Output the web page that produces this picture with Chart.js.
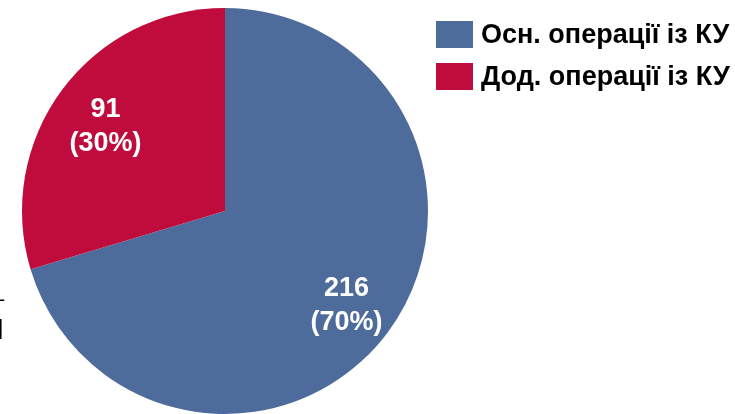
<!DOCTYPE html>
<html>
<head>
<meta charset="utf-8">
<script src="https://cdn.jsdelivr.net/npm/chart.js@4/dist/chart.umd.min.js"></script>
<style>
  html, body { margin: 0; padding: 0; background: #fff; }
  #wrap { position: relative; width: 735px; height: 414px; overflow: hidden; }
  #legend { position: absolute; left: 436px; top: 21px; font-family: "Liberation Sans", Arial, sans-serif; font-weight: bold; font-size: 27px; color: #000; }
  .item { display: flex; align-items: center; height: 27px; margin-bottom: 15px; white-space: nowrap; }
  .box { width: 37px; height: 27px; margin-right: 8px; }
  #edge { position: absolute; left: -8px; top: 284px; font-family: "Liberation Sans", Arial, sans-serif; font-size: 22px; line-height: 30px; color: #000; }
</style>
</head>
<body>
<div id="wrap">
  <canvas id="myChart" width="735" height="414"></canvas>
  <div id="legend"></div>
  <div id="edge"><div>–</div><div style="font-weight:bold;font-size:30px;margin-left:-10px">И</div><div style="color:#bbb">)</div></div>
</div>
<script>
const categories = ['Осн. операції із КУ', 'Дод. операції із КУ'];
const values = [216, 91];
const percents = ['70%', '30%'];
const colors = ['#4D6C9B', '#C00C3D'];

// legend as html
const legend = document.getElementById('legend');
categories.forEach((name, i) => {
    const row = document.createElement('div');
    row.className = 'item';
    row.innerHTML = `<span class="box" style="background:${colors[i]}"></span><span>${name}</span>`;
    legend.appendChild(row);
});

// white labels inside slices
const sliceLabels = {
    id: 'sliceLabels',
    afterDatasetsDraw(chart) {
        const c = chart.ctx;
        const meta = chart.getDatasetMeta(0);
        c.save();
        c.fillStyle = '#fff';
        c.font = 'bold 27px "Liberation Sans", Arial, sans-serif';
        c.textAlign = 'center';
        c.textBaseline = 'middle';
        meta.data.forEach((arc, i) => {
            const mid = (arc.startAngle + arc.endAngle) / 2;
            const r = arc.outerRadius * 0.74;
            const x = arc.x + Math.cos(mid) * r;
            const y = arc.y + Math.sin(mid) * r;
            c.fillText(String(values[i]), x + 1, y - 12);
            c.fillText('(' + percents[i] + ')', x + 1, y + 22);
        });
        c.restore();
    }
};

const ctx = document.getElementById('myChart').getContext('2d');
new Chart(ctx, {
    type: 'pie',
    data: {
        labels: categories,
        datasets: [{
            data: values,
            backgroundColor: colors,
            borderWidth: 0
        }]
    },
    options: {
        responsive: false,
        animation: false,
        layout: { padding: { left: 22, right: 307, top: 8, bottom: 0 } },
        plugins: {
            legend: { display: false },
            tooltip: { enabled: false }
        }
    },
    plugins: [sliceLabels]
});
</script>
</body>
</html>
